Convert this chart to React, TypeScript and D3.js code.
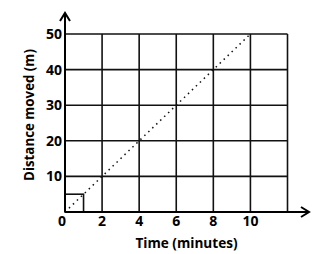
import React from "react";
import * as d3 from "d3";

const xTicks = [0, 2, 4, 6, 8, 10];
const xGrid = [2, 4, 6, 8, 10, 12];
const yTicks = [10, 20, 30, 40, 50];
const lineX = [0, 10];
const lineY = [0, 50];
const boxX = [0, 1];
const boxY = [0, 5];
const xLabel = "Time (minutes)";
const yLabel = "Distance moved (m)";

export default function App() {
  const W = 328, H = 254;
  const x = d3.scaleLinear().domain([0, 12]).range([65, 287.5]);
  const y = d3.scaleLinear().domain([0, 50]).range([212, 34]);
  const font = "'Open Sans', sans-serif";
  const line = d3.line<number>().x((d) => x(lineX[d])).y((d) => y(lineY[d]));
  return (
    <svg width={W} height={H} style={{ position: "absolute", left: 0, top: 0, background: "#fff" }}>
      {xGrid.map((v) => (
        <line key={"gx" + v} x1={x(v)} x2={x(v)} y1={y(0)} y2={y(50)} stroke="#111" strokeWidth={1.6} />
      ))}
      {yTicks.map((v) => (
        <line key={"gy" + v} x1={x(0)} x2={x(12)} y1={y(v)} y2={y(v)} stroke="#111" strokeWidth={1.6} />
      ))}
      <rect x={x(boxX[0])} y={y(boxY[1])} width={x(boxX[1]) - x(boxX[0])} height={y(boxY[0]) - y(boxY[1])} fill="none" stroke="#111" strokeWidth={1.6} />
      <path d={line([0, 1]) || ""} stroke="#111" strokeWidth={1.5} strokeDasharray="1.5 4" fill="none" />
      <line x1={x(0)} x2={x(0)} y1={y(0)} y2={13} stroke="#000" strokeWidth={2} />
      <line x1={x(0)} x2={309} y1={y(0)} y2={y(0)} stroke="#000" strokeWidth={2} />
      <path d={`M${x(0) - 5},${21} L${x(0)},${13} L${x(0) + 5},${21}`} fill="none" stroke="#000" strokeWidth={2} />
      <path d={`M${301},${y(0) - 5} L${309},${y(0)} L${301},${y(0) + 5}`} fill="none" stroke="#000" strokeWidth={2} />
      {yTicks.map((v) => (
        <text key={"ty" + v} x={62} y={y(v)} dy="0.36em" textAnchor="end" fontFamily={font} fontWeight={700} fontSize={14} fill="#000">{v}</text>
      ))}
      {xTicks.map((v) => (
        <text key={"tx" + v} x={v === 0 ? x(v) - 3 : x(v)} y={221} dy="0.36em" textAnchor="middle" fontFamily={font} fontWeight={700} fontSize={14} fill="#000">{v}</text>
      ))}
      <text x={186.5} y={243} dy="0.36em" textAnchor="middle" fontFamily={font} fontWeight={700} fontSize={13.6} fill="#000">{xLabel}</text>
      <text transform={`translate(29,115) rotate(-90)`} textAnchor="middle" dy="0.36em" fontFamily={font} fontWeight={700} fontSize={13.3} fill="#000">{yLabel}</text>
    </svg>
  );
}
